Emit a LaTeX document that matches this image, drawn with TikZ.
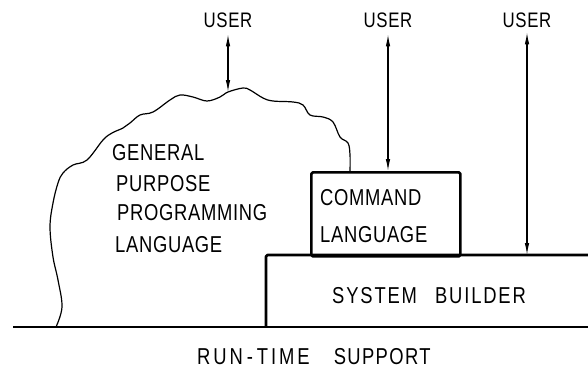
\documentclass[tikz,border=0pt]{standalone}
\usepackage{fontspec}
\setmainfont{Liberation Sans}[FakeStretch=0.8,LetterSpace=3]
\usetikzlibrary{arrows.meta}
\begin{document}
\begin{tikzpicture}[x=1pt,y=-1pt,
  lbl/.style={inner sep=0pt, anchor=base west, font=\fontsize{23}{27}\selectfont},
  usr/.style={inner sep=0pt, anchor=base, font=\fontsize{21}{25}\selectfont},
  heavy/.style={line width=2.7pt, line join=round, rounded corners=1.5pt},
  link/.style={line width=1.1pt, {Latex[length=12pt,width=4.5pt]}-{Latex[length=12pt,width=4.5pt]}},
  outline/.style={line width=1.2pt, line join=round, line cap=round}]
\useasboundingbox (0,0) rectangle (588,369);

% ground line with run-time support beneath it
\coordinate (gl) at (13,327);
\coordinate (gr) at (588,327);
\draw[line width=2.8pt] (gl) -- (gr);
\node[lbl] (rts) at (197,364) {\addfontfeature{LetterSpace=13}RUN\,-\,TIME\hspace{24pt}\addfontfeature{LetterSpace=6}SUPPORT};

% system builder: open to the right
\node[inner sep=0pt, minimum width=322pt, minimum height=72pt, anchor=north west] (sb) at (266,255) {};
\draw[heavy] (sb.north east) -- (sb.north west) -- (sb.south west);
\node[lbl] (sbt) at (332,303) {\addfontfeature{LetterSpace=8}SYSTEM\hspace{18pt}BUILDER};

% command language box
\node[draw, heavy, inner sep=0pt, minimum width=149pt, minimum height=84pt, anchor=north west] (cmd) at (310,171) {};
\node[lbl] (c1) at (320,205) {COMMAND};
\node[lbl] (c2) at (320,242) {LANGUAGE};

% general purpose programming language cloud
\draw[outline] plot[smooth, tension=0.6] coordinates {
  (56,327) (62,307) (58,280) (53,257) (50,227) (53,203) (58,183) (63,173)
  (73,165) (87,160) (103,140) (112,133) (123,128) (130,123) (140,115)
  (153,112) (170,100) (180,95) (193,97) (207,101) (220,97) (228,92)
  (243,88) (250,90) (263,98) (273,101) (293,102) (303,105) (310,115)
  (323,117) (333,122) (340,137) (348,143) (350,155) (350,171)};
\coordinate (ctop) at (228,92);
\node[lbl] (g1) at (112,160) {GENERAL};
\node[lbl] (g2) at (116,191) {PURPOSE};
\node[lbl] (g3) at (117,220) {PROGRAMMING};
\node[lbl] (g4) at (115,252) {LANGUAGE};

% users
\node[usr] (u1) at (228,28) {USER};
\node[usr] (u2) at (388,28) {USER};
\node[usr] (u3) at (527,28) {USER};
\draw[link, shorten <=6pt] (u1.south) -- (ctop);
\draw[link, shorten <=6pt] (u2.south) -- (u2.south |- cmd.north);
\draw[link, shorten <=4pt] (u3.south) -- (u3.south |- sb.north);
\end{tikzpicture}
\end{document}
